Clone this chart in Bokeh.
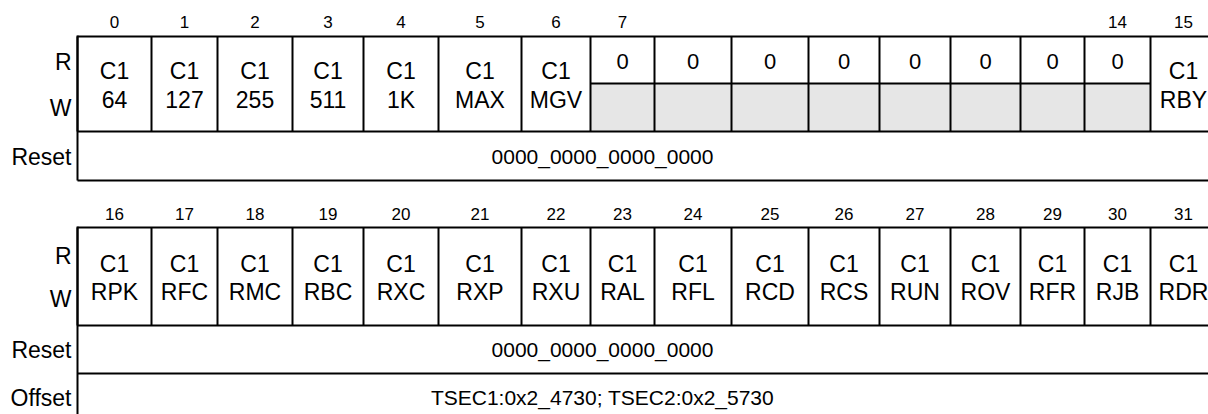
from bokeh.plotting import figure
from bokeh.models import Range1d
from bokeh.core.properties import value
from bokeh.embed import file_html
from bokeh.resources import INLINE

# ---------------- data ----------------
top_bits = [str(b) for b in range(0, 16)]
bottom_bits = [str(b) for b in range(16, 32)]
top_fields = ["C1\n64", "C1\n127", "C1\n255", "C1\n511", "C1\n1K", "C1\nMAX", "C1\nMGV",
              "0", "0", "0", "0", "0", "0", "0", "0", "C1\nRBY"]
top_reserved = [False] * 7 + [True] * 8 + [False]
bottom_fields = ["C1\nRPK", "C1\nRFC", "C1\nRMC", "C1\nRBC", "C1\nRXC", "C1\nRXP", "C1\nRXU",
                 "C1\nRAL", "C1\nRFL", "C1\nRCD", "C1\nRCS", "C1\nRUN", "C1\nROV", "C1\nRFR",
                 "C1\nRJB", "C1\nRDR"]
bottom_reserved = [False] * 16
top_shown_bits = [0, 1, 2, 3, 4, 5, 6, 7, 14, 15]
reset_value = "0000_0000_0000_0000"
offset_value = "TSEC1:0x2_4730; TSEC2:0x2_5730"
row_labels = ["R", "W", "Reset"]

# ---------------- layout ----------------
col_edges = [77, 151, 217, 292, 363, 438, 521, 590, 654, 731, 808, 879, 950, 1020, 1084, 1150, 1216]
centers = [(col_edges[i] + col_edges[i + 1]) / 2 for i in range(16)]
FONT = value("Liberation Sans")
CELL = "23px"
ZERO = "22px"
BIG = "21px"
LAB = "23px"
SMALL = "17px"
LW = 2

p = figure(width=1208, height=414, x_range=Range1d(0, 1208), y_range=Range1d(414, 0),
           output_backend="svg", toolbar_location=None, min_border=0)
p.axis.visible = False
p.grid.visible = False
p.outline_line_color = None
p.background_fill_color = "white"
p.border_fill_color = "white"


def block(bits, fields, reserved, shown, y_hdr, y_top, y_split, y_mid, y_reset, y_bottom,
          lab_y, extra_label=None, extra_text=None, extra_y=None):
    # header bit numbers
    hx = [centers[i] for i in range(16) if i in shown]
    ht = [bits[i] for i in range(16) if i in shown]
    p.text(x=hx, y=[y_hdr] * len(hx), text=ht, text_font=FONT, text_font_size=SMALL,
           text_align="center", text_baseline="middle", text_color="black")
    # grey write-reserved cells
    gl = [col_edges[i] for i in range(16) if reserved[i]]
    gr = [col_edges[i + 1] for i in range(16) if reserved[i]]
    if gl:
        p.quad(left=gl, right=gr, top=[y_split] * len(gl), bottom=[y_mid] * len(gl),
               fill_color="#e6e6e6", line_color=None)
    # field texts
    two_x, l1, l2, one_x, one_t = [], [], [], [], []
    for i, f in enumerate(fields):
        if "\n" in f:
            a, b = f.split("\n")
            two_x.append(centers[i]); l1.append(a); l2.append(b)
        else:
            one_x.append(centers[i]); one_t.append(f)
    cy = (y_top + y_mid) / 2
    p.text(x=two_x, y=[cy - 13] * len(two_x), text=l1, text_font=FONT, text_font_size=CELL,
           text_align="center", text_baseline="middle", text_color="black")
    p.text(x=two_x, y=[cy + 15.5] * len(two_x), text=l2, text_font=FONT, text_font_size=CELL,
           text_align="center", text_baseline="middle", text_color="black")
    if one_x:
        p.text(x=one_x, y=[(y_top + y_split) / 2 + 1.5] * len(one_x), text=one_t, text_font=FONT,
               text_font_size=ZERO, text_align="center", text_baseline="middle", text_color="black")
    # lines
    x0, x1, y0, y1 = [], [], [], []
    for yy in [y_top, y_mid, y_reset]:
        x0.append(col_edges[0]); x1.append(col_edges[-1]); y0.append(yy); y1.append(yy)
    for i in range(16):
        if reserved[i]:
            x0.append(col_edges[i]); x1.append(col_edges[i + 1]); y0.append(y_split); y1.append(y_split)
    for e in col_edges:
        x0.append(e); x1.append(e); y0.append(y_top); y1.append(y_mid)
    x0.append(col_edges[0]); x1.append(col_edges[0]); y0.append(y_top - 1); y1.append(y_bottom)
    x0.append(col_edges[-1]); x1.append(col_edges[-1]); y0.append(y_top - 1); y1.append(y_bottom)
    p.segment(x0=x0, y0=y0, x1=x1, y1=y1, line_color="black", line_width=LW)
    # row labels
    labs = list(row_labels)
    ly = list(lab_y)
    if extra_label:
        labs.append(extra_label); ly.append(extra_y)
    p.text(x=[71] * len(labs), y=ly, text=labs, text_font=FONT, text_font_size=LAB,
           text_align="right", text_baseline="middle", text_color="black")
    # reset value
    p.text(x=[602], y=[(y_mid + y_reset) / 2], text=[reset_value], text_font=FONT,
           text_font_size=BIG, text_align="center", text_baseline="middle", text_color="black")
    if extra_text:
        p.text(x=[602], y=[extra_y], text=[extra_text], text_font=FONT, text_font_size=BIG,
               text_align="center", text_baseline="middle", text_color="black")


block(top_bits, top_fields, top_reserved, top_shown_bits,
      y_hdr=21, y_top=36, y_split=83, y_mid=131, y_reset=180, y_bottom=180,
      lab_y=[61.5, 107.5, 156])
block(bottom_bits, bottom_fields, bottom_reserved, list(range(16)),
      y_hdr=213, y_top=227, y_split=275, y_mid=325, y_reset=373, y_bottom=420,
      lab_y=[255, 298.5, 349.5], extra_label="Offset", extra_text=offset_value, extra_y=397)

open("out.html", "w").write(file_html(p, INLINE))
